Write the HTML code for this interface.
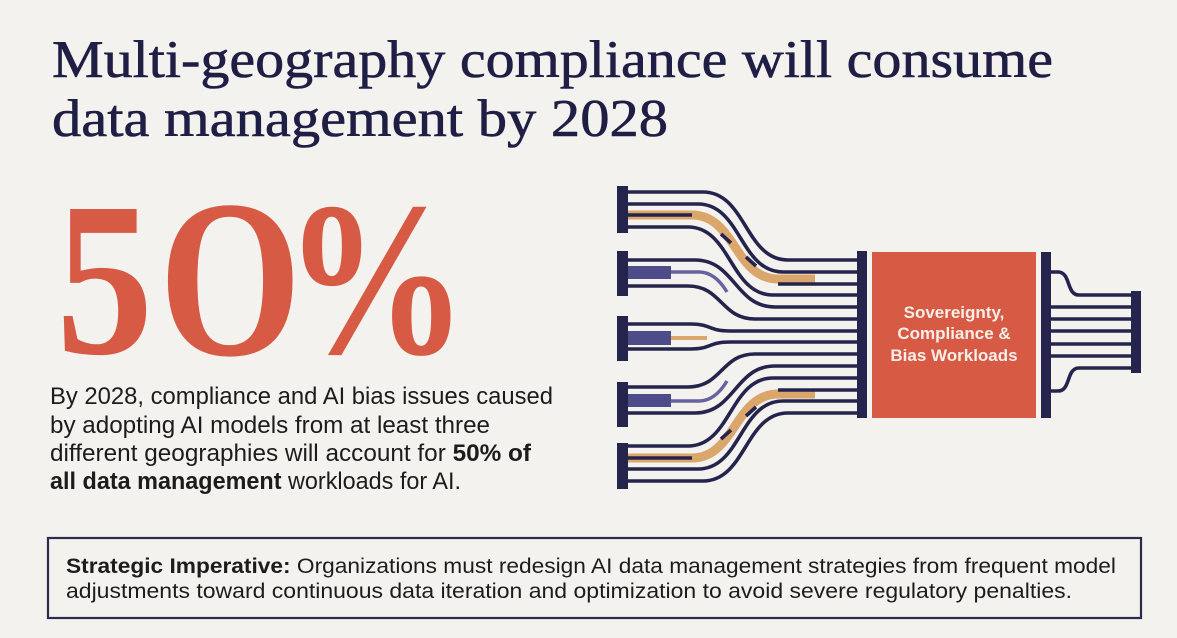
<!DOCTYPE html>
<html>
<head>
<meta charset="utf-8">
<style>
html,body{margin:0;padding:0;}
body{width:1177px;height:638px;background:#f3f2ee;overflow:hidden;}
svg{display:block;}
</style>
</head>
<body>
<svg width="1177" height="638" viewBox="0 0 1177 638" xmlns="http://www.w3.org/2000/svg">
  <rect x="0" y="0" width="1177" height="638" fill="#f3f2ee"/>

  <!-- Title -->
  <g font-family="'Liberation Serif', serif" fill="#1f1e45" stroke="#1f1e45" stroke-width="0.6" font-size="53">
    <text x="52" y="77" textLength="1001" lengthAdjust="spacingAndGlyphs">Multi-geography compliance will consume</text>
    <text x="52" y="136" textLength="616" lengthAdjust="spacingAndGlyphs">data management by 2028</text>
  </g>

  <!-- 50% -->
  <g font-family="'Liberation Serif', serif" fill="#d75a45">
    <text transform="translate(56,353) scale(0.884,1)" font-size="220" font-weight="bold">5</text>
    <text transform="translate(159,353) scale(1.295,1)" font-size="220" stroke="#d75a45" stroke-width="3">0</text>
    <text transform="translate(284,353) scale(0.835,1)" font-size="220" font-weight="bold">%</text>
  </g>

  <!-- Body paragraph -->
  <g font-family="'Liberation Sans', sans-serif" fill="#1c1c1c" font-size="24">
    <text x="50" y="404" textLength="503" lengthAdjust="spacingAndGlyphs">By 2028, compliance and AI bias issues caused</text>
    <text x="50" y="433" textLength="440" lengthAdjust="spacingAndGlyphs">by adopting AI models from at least three</text>
    <text x="50" y="461" textLength="481" lengthAdjust="spacingAndGlyphs">different geographies will account for <tspan font-weight="bold">50% of</tspan></text>
    <text x="50" y="489" textLength="411" lengthAdjust="spacingAndGlyphs"><tspan font-weight="bold">all data management</tspan> workloads for AI.</text>
  </g>

  <!-- Diagram: left bars -->
  <g fill="#24244c">
    <rect x="617" y="186" width="11" height="47"/>
    <rect x="617" y="251" width="11" height="45"/>
    <rect x="617" y="316" width="11" height="45"/>
    <rect x="617" y="382" width="11" height="45"/>
    <rect x="617" y="443" width="11" height="46"/>
  </g>

  <!-- orange bands (under) -->
  <g fill="none" stroke="#dba66b" stroke-width="9" stroke-linecap="butt">
    <path d="M628 215 H692 C735 215, 735 279, 778 279 H815"/>
    <path d="M628 458 H692 C735 458, 735 394, 778 394 H815"/>
  </g>

  <!-- navy lines -->
  <g fill="none" stroke="#24244c" stroke-width="3.6">
    <!-- group 1 -->
    <path d="M628 192 H703 C746 192, 745 260, 788 260 H857"/>
    <path d="M628 204 H698 C741 204, 740 272, 783 272 H857"/>
    <path d="M628 227 H688 C731 227, 730 295, 773 295 H857"/>
    <!-- group 2 -->
    <path d="M628 260 H695 C735 260, 735 307, 775 307 H857"/>
    <path d="M628 286 H688 C722 286, 721 319, 755 319 H857"/>
    <!-- group 3 -->
    <path d="M628 324 H690 C712 324, 708 331, 730 331 H857"/>
    <path d="M628 349 H690 C712 349, 708 342, 730 342 H857"/>
    <!-- group 4 -->
    <path d="M628 387 H688 C722 387, 721 354, 755 354 H857"/>
    <path d="M628 413 H695 C735 413, 735 366, 775 366 H857"/>
    <!-- group 5 -->
    <path d="M628 446 H688 C731 446, 730 378, 773 378 H857"/>
    <path d="M628 469 H698 C741 469, 740 401, 783 401 H857"/>
    <path d="M628 481 H703 C746 481, 745 413, 788 413 H857"/>
    <!-- lines partially under orange -->
    <path d="M778 284 H857"/>
    <path d="M778 390 H857"/>
    <path d="M628 215 H692"/>
    <path d="M628 458 H692"/>
    <path d="M721 234 L731 243"/>
    <path d="M746 257 L756 266"/>
    <path d="M721 439 L731 430"/>
    <path d="M746 416 L756 407"/>
  </g>

  <!-- purple stubs -->
  <g fill="#4d4b88">
    <rect x="628" y="266" width="43" height="13"/>
    <rect x="628" y="331" width="43" height="14"/>
    <rect x="628" y="394" width="43" height="13"/>
  </g>
  <g fill="none" stroke="#6664a0" stroke-width="3.4">
    <path d="M671 272 H699 C712 272, 721 282, 727 292"/>
    <path d="M671 401 H699 C712 401, 721 391, 727 381"/>
  </g>
  <path d="M671 338 H707" stroke="#dba66b" stroke-width="4" fill="none"/>

  <!-- collector bar -->
  <rect x="857" y="251" width="10" height="167" fill="#24244c"/>

  <!-- red box -->
  <rect x="872" y="252" width="164" height="166" fill="#d75a45"/>
  <g font-family="'Liberation Sans', sans-serif" font-weight="bold" font-size="17" fill="#fbefe9" text-anchor="middle">
    <text x="954" y="318">Sovereignty,</text>
    <text x="954" y="339">Compliance &amp;</text>
    <text x="954" y="361">Bias Workloads</text>
  </g>

  <!-- right bar & output lines -->
  <rect x="1041" y="252" width="10" height="166" fill="#24244c"/>
  <g fill="none" stroke="#24244c" stroke-width="3.6">
    <path d="M1051 272 H1058 C1071 272, 1066 295, 1079 295 H1131"/>
    <path d="M1051 307 H1131"/>
    <path d="M1051 319 H1131"/>
    <path d="M1051 331 H1131"/>
    <path d="M1051 344 H1131"/>
    <path d="M1051 356 H1131"/>
    <path d="M1051 391 H1058 C1071 391, 1066 368, 1079 368 H1131"/>
  </g>
  <rect x="1131" y="291" width="10" height="82" fill="#24244c"/>

  <!-- Strategic box -->
  <rect x="48" y="538" width="1093" height="80" fill="none" stroke="#2b2b4d" stroke-width="2.2"/>
  <g font-family="'Liberation Sans', sans-serif" fill="#1c1c1c" font-size="21.5">
    <text x="66" y="573" textLength="1050" lengthAdjust="spacingAndGlyphs"><tspan font-weight="bold">Strategic Imperative:</tspan> Organizations must redesign AI data management strategies from frequent model</text>
    <text x="66" y="598" textLength="1006" lengthAdjust="spacingAndGlyphs">adjustments toward continuous data iteration and optimization to avoid severe regulatory penalties.</text>
  </g>
</svg>
</body>
</html>
